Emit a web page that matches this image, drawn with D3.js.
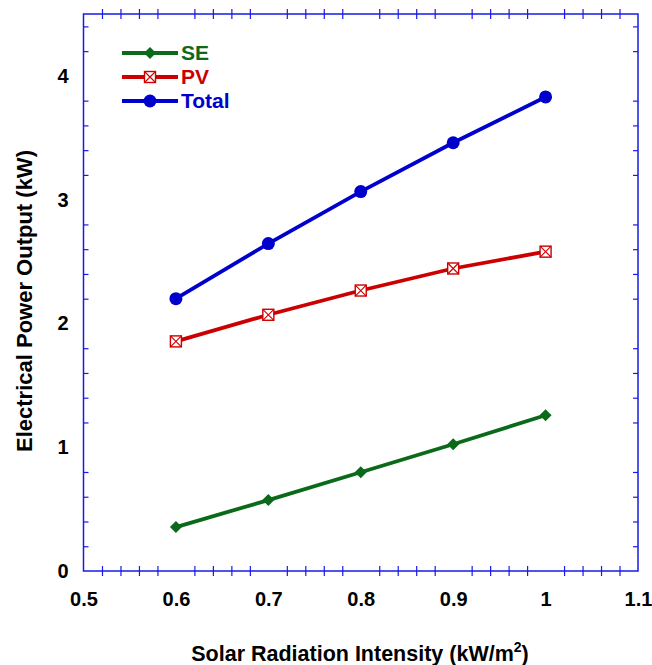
<!DOCTYPE html>
<html>
<head>
<meta charset="utf-8">
<script src="https://cdn.jsdelivr.net/npm/d3@7"></script>
<style>
  html, body { margin: 0; padding: 0; background: #fff; }
  svg { display: block; }
  text { font-family: "Liberation Sans", Arial, Helvetica, sans-serif; font-weight: bold; }
</style>
</head>
<body>
<svg id="chart" width="652" height="665"></svg>
<script>
// Solar radiation intensity (kW/m2)
const radiation = [0.6, 0.7, 0.8, 0.9, 1.0];
// Electrical power output (kW) for each generator
const seOutput = [0.355, 0.573, 0.798, 1.024, 1.258];
const pvOutput = [1.855, 2.070, 2.266, 2.444, 2.580];
const totalOutput = [2.200, 2.645, 3.065, 3.460, 3.830];

const xTickLabels = [0.5, 0.6, 0.7, 0.8, 0.9, 1, 1.1];
const yTickLabels = [0, 1, 2, 3, 4];

const seriesNames = ["SE", "PV", "Total"];
const seriesColors = ["#0b6a1a", "#cc0000", "#0000cc"];

const series = [
  { name: seriesNames[0], color: seriesColors[0], values: seOutput, marker: "diamond" },
  { name: seriesNames[1], color: seriesColors[1], values: pvOutput, marker: "xsquare" },
  { name: seriesNames[2], color: seriesColors[2], values: totalOutput, marker: "circle" }
];

const svg = d3.select("#chart");
const margin = { left: 83.5, right: 14, top: 14, bottom: 94 };
const W = 652, H = 665;

const x = d3.scaleLinear().domain([0.5, 1.1]).range([margin.left, W - margin.right]);
const y = d3.scaleLinear().domain([0, 4.5]).range([H - margin.bottom, margin.top]);

const frameColor = "#1a1ae6";

// Minor tick positions, skipping labelled values
const xMinor = d3.range(0, 31).map(i => 0.5 + i * 0.02).filter((v, i) => i % 5 !== 0);
const yMinor = d3.range(0, 23).map(i => i * 0.2).filter((v, i) => i % 5 !== 0 && v < 4.5);

// Frame
svg.append("rect")
  .attr("x", x(0.5)).attr("y", y(4.5))
  .attr("width", x(1.1) - x(0.5)).attr("height", y(0) - y(4.5))
  .attr("fill", "none").attr("stroke", frameColor).attr("stroke-width", 1.5);

// Bottom / top ticks (crossing the frame)
const xBottom = d3.axisBottom(x).tickValues(xMinor).tickSize(5).tickFormat("");
const gB = svg.append("g").attr("transform", `translate(0,${y(0)})`).call(xBottom);
const xTop = d3.axisTop(x).tickValues(xMinor).tickSize(5).tickFormat("");
const gT = svg.append("g").attr("transform", `translate(0,${y(4.5)})`).call(xTop);
[gB, gT].forEach(g => {
  g.select(".domain").remove();
  g.selectAll(".tick line").attr("y1", -5).attr("y2", 5).attr("stroke", frameColor).attr("stroke-width", 1.2);
});

// Left / right ticks (pointing inward)
const gL = svg.append("g").attr("transform", `translate(${x(0.5)},0)`)
  .call(d3.axisRight(y).tickValues(yMinor).tickSize(5).tickFormat(""));
const gR = svg.append("g").attr("transform", `translate(${x(1.1)},0)`)
  .call(d3.axisLeft(y).tickValues(yMinor).tickSize(5).tickFormat(""));
[gL, gR].forEach(g => {
  g.select(".domain").remove();
  g.selectAll(".tick line").attr("stroke", frameColor).attr("stroke-width", 1.2);
});

// Tick labels
const xl = svg.append("g").attr("transform", `translate(0,${y(0)})`)
  .call(d3.axisBottom(x).tickValues(xTickLabels).tickSize(0).tickPadding(21).tickFormat(d3.format("")));
xl.select(".domain").remove();
xl.selectAll("text").attr("font-size", 20).attr("fill", "#000")
  .style("font-family", "'Liberation Sans', Arial, sans-serif").style("font-weight", "bold");

const yl = svg.append("g").attr("transform", `translate(${x(0.5)},0)`)
  .call(d3.axisLeft(y).tickValues(yTickLabels).tickSize(0).tickPadding(15).tickFormat(d3.format("")));
yl.select(".domain").remove();
yl.selectAll("text").attr("font-size", 20).attr("fill", "#000")
  .style("font-family", "'Liberation Sans', Arial, sans-serif").style("font-weight", "bold");

// Axis titles
const xt = svg.append("text")
  .attr("x", 360).attr("y", 661)
  .attr("text-anchor", "middle").attr("font-size", 21.5).attr("fill", "#000")
  .text("Solar Radiation Intensity (kW/m");
xt.append("tspan").attr("font-size", 14).attr("dy", -9).text("2");
xt.append("tspan").attr("dy", 9).text(")");

svg.append("text")
  .attr("transform", `translate(31.5,301) rotate(-90)`)
  .attr("text-anchor", "middle").attr("font-size", 22).attr("fill", "#000")
  .text("Electrical Power Output (kW)");

// Marker drawing
function drawMarker(g, type, color, cx, cy) {
  if (type === "circle") {
    g.append("circle").attr("cx", cx).attr("cy", cy).attr("r", 6.5).attr("fill", color);
  } else if (type === "diamond") {
    g.append("path")
      .attr("d", `M${cx},${cy - 6}L${cx + 6},${cy}L${cx},${cy + 6}L${cx - 6},${cy}Z`)
      .attr("fill", color);
  } else if (type === "xsquare") {
    const s = 5.5;
    g.append("rect").attr("x", cx - s).attr("y", cy - s).attr("width", 2 * s).attr("height", 2 * s)
      .attr("fill", "#fff").attr("stroke", color).attr("stroke-width", 1.4);
    g.append("path")
      .attr("d", `M${cx - s},${cy - s}L${cx + s},${cy + s}M${cx + s},${cy - s}L${cx - s},${cy + s}`)
      .attr("stroke", color).attr("stroke-width", 1.1).attr("fill", "none");
  }
}

const line = d3.line().x(d => x(d[0])).y(d => y(d[1]));

series.forEach(s => {
  const pts = radiation.map((r, i) => [r, s.values[i]]);
  const g = svg.append("g");
  g.append("path").datum(pts).attr("d", line)
    .attr("fill", "none").attr("stroke", s.color).attr("stroke-width", 3.8);
  pts.forEach(p => drawMarker(g, s.marker, s.color, x(p[0]), y(p[1])));
});

// Legend
const legend = svg.append("g");
series.forEach((s, i) => {
  const ly = 53 + i * 24;
  legend.append("line").attr("x1", 122).attr("x2", 178).attr("y1", ly).attr("y2", ly)
    .attr("stroke", s.color).attr("stroke-width", 3.8);
  drawMarker(legend, s.marker, s.color, 150, ly);
  legend.append("text").attr("x", 181).attr("y", ly + 7)
    .attr("font-size", 21).attr("fill", s.color).text(s.name);
});
</script>
</body>
</html>
